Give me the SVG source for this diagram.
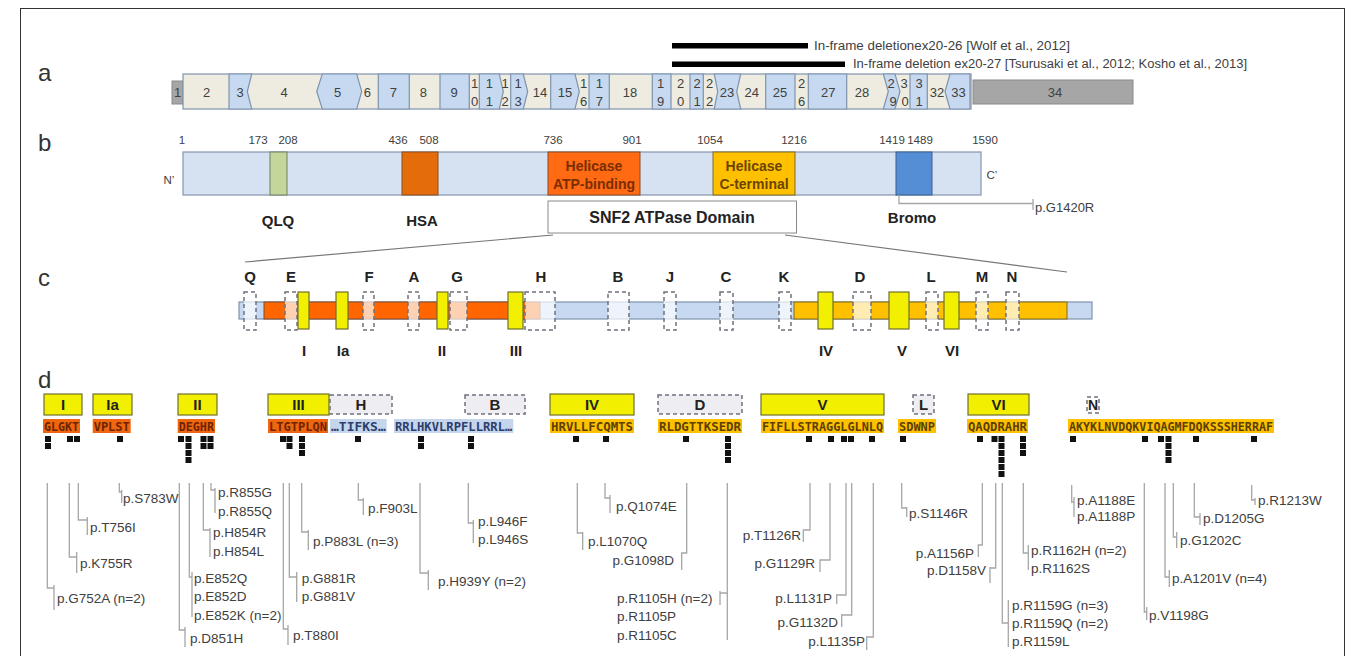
<svg xmlns="http://www.w3.org/2000/svg" width="1353" height="656" viewBox="0 0 1353 656">
<style>
.lbl{font-family:"Liberation Sans",Arial,sans-serif;font-size:24px;fill:#333}
.ex{font-family:"Liberation Sans",Arial,sans-serif;font-size:13px;fill:#404040;text-anchor:middle}
.num{font-family:"Liberation Sans",Arial,sans-serif;font-size:11.5px;fill:#404040;text-anchor:middle}
.t{font-family:"Liberation Sans",Arial,sans-serif;font-size:12.5px;fill:#404040}
.bold{font-family:"Liberation Sans",Arial,sans-serif;font-weight:bold;fill:#222;text-anchor:middle}
.mut{font-family:"Liberation Sans",Arial,sans-serif;font-size:13.5px;fill:#404040}
.end{text-anchor:end}
.seq{font-family:"DejaVu Sans Mono",monospace;font-weight:bold;font-size:12.5px}
.blue{fill:#c6d9f1;stroke:#7f93ad;stroke-width:1.2}
.beige{fill:#eeece1;stroke:#7f93ad;stroke-width:1.2}
.gray{fill:#a6a6a6;stroke:#8a8a8a}
.yel{fill:#f2f000;stroke:#6f6f30;stroke-width:1.2}
.dash{fill:#fff;fill-opacity:0.7;stroke:#70707f;stroke-width:1.5;stroke-dasharray:4,3}
.dashd{fill:#eeeef2;stroke:#70707f;stroke-width:1.5;stroke-dasharray:4,3}
.conn{fill:none;stroke:#a6a6a6;stroke-width:1.3}
.sq{fill:#111}
</style>
<rect x="20.5" y="8.5" width="1324" height="660" fill="none" stroke="#333" stroke-width="1"/>

<!-- Row a -->
<g id="row-a">
<text class="lbl" x="38" y="81">a</text>
<rect x="672" y="43" width="136" height="5.5" fill="#000"/>
<text class="t" x="814" y="50" textLength="256" lengthAdjust="spacingAndGlyphs">In-frame deletionex20-26 [Wolf et al., 2012]</text>
<rect x="672" y="61.5" width="173" height="5.5" fill="#000"/>
<text class="t" x="853" y="68" textLength="394" lengthAdjust="spacingAndGlyphs">In-frame deletion ex20-27 [Tsurusaki et al., 2012; Kosho et al., 2013]</text>
<rect class="gray" x="172" y="81" width="11" height="23"/>
<rect class="gray" x="973" y="80" width="160" height="24"/>
<rect class="beige" x="183" y="74" width="788" height="35"/>
<polygon class="blue" points="229,74 251.7,74 247.3,91.5 251.7,109 229,109"/>
<polygon class="blue" points="322.3,74 356.7,74 361.7,91.5 356.7,109 322.3,109 316.7,91.5"/>
<polygon class="blue" points="378.3,74 409.3,74 409.3,109 378.3,109"/>
<polygon class="blue" points="440,74 469.3,74 469.3,109 440,109"/>
<polygon class="blue" points="479.3,74 499.3,74 503.3,91.5 499.3,109 479.3,109"/>
<polygon class="blue" points="510.7,74 523.3,74 527.7,91.5 523.3,109 510.7,109"/>
<polygon class="blue" points="550.7,74 575,74 579.3,91.5 575,109 550.7,109"/>
<polygon class="blue" points="589,74 609.3,74 609.3,109 589,109"/>
<polygon class="blue" points="652.3,74 671,74 671,109 652.3,109"/>
<polygon class="blue" points="690,74 703.3,74 703.3,109 690,109"/>
<polygon class="blue" points="714.3,74 740.7,74 736.7,91.5 740.7,109 714.3,109 717.7,91.5"/>
<polygon class="blue" points="765.7,74 795,74 795,109 765.7,109"/>
<polygon class="blue" points="808.3,74 846.7,74 846.7,109 808.3,109"/>
<polygon class="blue" points="883.3,74 895,74 900,91.5 895,109 883.3,109 888.3,91.5"/>
<polygon class="blue" points="910,74 927.3,74 927.3,109 910,109"/>
<polygon class="blue" points="950,74 970,74 970,109 950,109 945,91.5"/>
<g>
<text class="ex" x="177.5" y="97">1</text>
<text class="ex" x="206.7" y="97">2</text>
<text class="ex" x="240" y="97">3</text>
<text class="ex" x="284" y="97">4</text>
<text class="ex" x="337.7" y="97">5</text>
<text class="ex" x="367.3" y="97">6</text>
<text class="ex" x="393.3" y="97">7</text>
<text class="ex" x="423.3" y="97">8</text>
<text class="ex" x="454" y="97">9</text>
<text class="ex" x="474.5" y="88">1</text><text class="ex" x="474.5" y="106">0</text>
<text class="ex" x="489.3" y="88">1</text><text class="ex" x="489.3" y="106">1</text>
<text class="ex" x="505" y="88">1</text><text class="ex" x="505" y="106">2</text>
<text class="ex" x="518" y="88">1</text><text class="ex" x="518" y="106">3</text>
<text class="ex" x="540" y="97">14</text>
<text class="ex" x="565" y="97">15</text>
<text class="ex" x="583.5" y="88">1</text><text class="ex" x="583.5" y="106">6</text>
<text class="ex" x="599.3" y="88">1</text><text class="ex" x="599.3" y="106">7</text>
<text class="ex" x="630" y="97">18</text>
<text class="ex" x="660.5" y="88">1</text><text class="ex" x="660.5" y="106">9</text>
<text class="ex" x="680.5" y="88">2</text><text class="ex" x="680.5" y="106">0</text>
<text class="ex" x="697" y="88">2</text><text class="ex" x="697" y="106">1</text>
<text class="ex" x="709.5" y="88">2</text><text class="ex" x="709.5" y="106">2</text>
<text class="ex" x="727" y="97">23</text>
<text class="ex" x="751.7" y="97">24</text>
<text class="ex" x="780" y="97">25</text>
<text class="ex" x="801.7" y="88">2</text><text class="ex" x="801.7" y="106">6</text>
<text class="ex" x="828.3" y="97">27</text>
<text class="ex" x="862" y="97">28</text>
<text class="ex" x="891" y="88">2</text><text class="ex" x="893" y="106">9</text>
<text class="ex" x="904" y="88">3</text><text class="ex" x="905" y="106">0</text>
<text class="ex" x="919" y="88">3</text><text class="ex" x="919" y="106">1</text>
<text class="ex" x="937" y="97">32</text>
<text class="ex" x="958.5" y="97">33</text>
<text class="ex" x="1055" y="97">34</text>
</g>
</g>

<!-- Row b -->
<g id="row-b">
<text class="lbl" x="38" y="151">b</text>
<rect x="183" y="152" width="798" height="43" fill="#d6e2f2" stroke="#8497b0" stroke-width="1.2"/>
<rect x="270" y="152" width="17" height="43" fill="#c4d79b" stroke="#6f7f60" stroke-width="1"/>
<rect x="402" y="152" width="36" height="43" fill="#e46c0a" stroke="#8a4a20" stroke-width="1"/>
<rect x="548" y="152" width="92" height="43" fill="#ff6a13" stroke="#8a4a20" stroke-width="1"/>
<rect x="713" y="152" width="82" height="43" fill="#ffc000" stroke="#7f6a20" stroke-width="1"/>
<rect x="896" y="152" width="36" height="43" fill="#558ed5" stroke="#3a5f90" stroke-width="1"/>
<text class="bold" x="594" y="171" font-size="14" style="fill:#7a2e00">Helicase</text>
<text class="bold" x="594" y="189" font-size="14" style="fill:#7a2e00">ATP-binding</text>
<text class="bold" x="754" y="171" font-size="14" style="fill:#6b4500">Helicase</text>
<text class="bold" x="754" y="189" font-size="14" style="fill:#6b4500">C-terminal</text>
<text class="num" x="182" y="144">1</text>
<text class="num" x="258" y="144">173</text>
<text class="num" x="288" y="144">208</text>
<text class="num" x="398" y="144">436</text>
<text class="num" x="429" y="144">508</text>
<text class="num" x="553" y="144">736</text>
<text class="num" x="632" y="144">901</text>
<text class="num" x="710" y="144">1054</text>
<text class="num" x="794" y="144">1216</text>
<text class="num" x="892" y="144">1419</text>
<text class="num" x="920" y="144">1489</text>
<text class="num" x="985" y="144">1590</text>
<text class="num" x="169" y="184">N’</text>
<text class="num" x="992" y="179">C’</text>
<text class="bold" x="278" y="226" font-size="15">QLQ</text>
<text class="bold" x="422" y="226" font-size="15">HSA</text>
<text class="bold" x="912" y="223" font-size="15">Bromo</text>
<rect x="548" y="201" width="248.5" height="32" fill="#fff" stroke="#8a8a8a" stroke-width="1"/>
<text class="bold" x="672" y="223" font-size="16">SNF2 ATPase Domain</text>
<path class="conn" d="M899 195 V203.5 H1033 M1033 199 V210"/>
<text class="mut" x="1035" y="212" style="font-size:13px">p.G1420R</text>
<path d="M553 235 L245 262 M785 235 L1067 272" fill="none" stroke="#777" stroke-width="1.2"/>
</g>

<!-- Row c -->
<g id="row-c">
<text class="lbl" x="38" y="286">c</text>
<rect class="blue" x="239" y="302" width="853" height="17"/>
<rect x="264" y="302" width="276" height="17" fill="#ff6600" stroke="#7f4a30" stroke-width="1"/>
<rect x="794" y="302" width="273" height="17" fill="#ffc000" stroke="#7f6a20" stroke-width="1"/>
<rect class="dash" x="244" y="292" width="12" height="38"/>
<rect class="dash" x="285" y="292" width="12" height="38"/>
<rect class="dash" x="363" y="292" width="11" height="38"/>
<rect class="dash" x="408" y="292" width="11" height="38"/>
<rect class="dash" x="450" y="292" width="17" height="38"/>
<rect class="dash" x="525" y="292" width="30" height="38"/>
<rect class="dash" x="608" y="292" width="21" height="38"/>
<rect class="dash" x="664" y="292" width="12" height="38"/>
<rect class="dash" x="720" y="292" width="13" height="38"/>
<rect class="dash" x="779" y="292" width="12" height="38"/>
<rect class="dash" x="853" y="292" width="18" height="38"/>
<rect class="dash" x="926" y="292" width="12" height="38"/>
<rect class="dash" x="976" y="292" width="12" height="38"/>
<rect class="dash" x="1006" y="292" width="13" height="38"/>
<rect class="yel" x="298" y="292" width="11" height="37"/>
<rect class="yel" x="336" y="292" width="12" height="37"/>
<rect class="yel" x="437" y="292" width="11" height="37"/>
<rect class="yel" x="508" y="292" width="15" height="37"/>
<rect class="yel" x="818" y="292" width="15" height="37"/>
<rect class="yel" x="889" y="292" width="20" height="37"/>
<rect class="yel" x="944" y="292" width="15" height="37"/>
<g font-size="15">
<text class="bold" x="250" y="282">Q</text>
<text class="bold" x="291" y="282">E</text>
<text class="bold" x="369" y="282">F</text>
<text class="bold" x="414" y="282">A</text>
<text class="bold" x="457" y="282">G</text>
<text class="bold" x="541" y="282">H</text>
<text class="bold" x="618" y="282">B</text>
<text class="bold" x="670" y="282">J</text>
<text class="bold" x="726" y="282">C</text>
<text class="bold" x="784" y="282">K</text>
<text class="bold" x="860" y="282">D</text>
<text class="bold" x="931" y="282">L</text>
<text class="bold" x="982" y="282">M</text>
<text class="bold" x="1012" y="282">N</text>
<text class="bold" x="304" y="356">I</text>
<text class="bold" x="343" y="356">Ia</text>
<text class="bold" x="442" y="356">II</text>
<text class="bold" x="516" y="356">III</text>
<text class="bold" x="826" y="356">IV</text>
<text class="bold" x="902" y="356">V</text>
<text class="bold" x="952" y="356">VI</text>
</g>
</g>

<!-- Row d motifs -->
<g id="row-d">
<text class="lbl" x="38" y="388">d</text>
<g font-size="15">
<rect class="yel" x="44" y="394" width="38" height="21"/><text class="bold" x="63" y="410">I</text>
<rect class="yel" x="93" y="394" width="39" height="21"/><text class="bold" x="112.5" y="410">Ia</text>
<rect class="yel" x="178" y="394" width="39" height="21"/><text class="bold" x="197.5" y="410">II</text>
<rect class="yel" x="268" y="394" width="61" height="21"/><text class="bold" x="298.5" y="410">III</text>
<rect class="dashd" x="330" y="395" width="62" height="19"/><text class="bold" x="361" y="410">H</text>
<rect class="dashd" x="465" y="395" width="60" height="19"/><text class="bold" x="495" y="410">B</text>
<rect class="yel" x="550" y="394" width="84" height="21"/><text class="bold" x="592" y="410">IV</text>
<rect class="dashd" x="658" y="395" width="84" height="19"/><text class="bold" x="700" y="410">D</text>
<rect class="yel" x="761" y="394" width="123" height="21"/><text class="bold" x="822.5" y="410">V</text>
<rect class="dashd" x="913" y="395" width="21" height="19"/><text class="bold" x="923.5" y="410">L</text>
<rect class="yel" x="968" y="394" width="61" height="21"/><text class="bold" x="998.5" y="410">VI</text>
<rect class="dashd" x="1087" y="397" width="12" height="16" style="fill:none"/><text class="bold" x="1093" y="410" font-size="14">N</text>
</g>
<rect x="43" y="419" width="37" height="14" fill="#f0660f"/>
<rect x="92.7" y="419" width="38" height="14" fill="#f0660f"/>
<rect x="177.7" y="419" width="37.3" height="14" fill="#f0660f"/>
<rect x="268" y="419" width="60" height="14" fill="#f0660f"/>
<rect x="330" y="419" width="56.7" height="14" fill="#c5d6ec"/>
<rect x="394" y="419" width="119.3" height="14" fill="#c5d6ec"/>
<rect x="550" y="419" width="84" height="14" fill="#ffc000"/>
<rect x="658" y="419" width="84" height="14" fill="#ffc000"/>
<rect x="761" y="419" width="123" height="14" fill="#ffc000"/>
<rect x="898" y="419" width="38" height="14" fill="#ffc000"/>
<rect x="967" y="419" width="61" height="14" fill="#ffc000"/>
<rect x="1068" y="419" width="206" height="14" fill="#ffc000"/>
<g class="seq">
<text x="44" y="430.5" fill="#6e2400" textLength="35" lengthAdjust="spacingAndGlyphs">GLGKT</text>
<text x="93.7" y="430.5" fill="#6e2400" textLength="36" lengthAdjust="spacingAndGlyphs">VPLST</text>
<text x="178.7" y="430.5" fill="#6e2400" textLength="35.3" lengthAdjust="spacingAndGlyphs">DEGHR</text>
<text x="269" y="430.5" fill="#6e2400" textLength="58" lengthAdjust="spacingAndGlyphs">LTGTPLQN</text>
<text x="331" y="430.5" fill="#2c3e6e" textLength="54.7" lengthAdjust="spacingAndGlyphs">…TIFKS…</text>
<text x="395" y="430.5" fill="#2c3e6e" textLength="117.3" lengthAdjust="spacingAndGlyphs">RRLHKVLRPFLLRRL…</text>
<text x="551" y="430.5" fill="#5c4000" textLength="82" lengthAdjust="spacingAndGlyphs">HRVLLFCQMTS</text>
<text x="659" y="430.5" fill="#5c4000" textLength="82" lengthAdjust="spacingAndGlyphs">RLDGTTKSEDR</text>
<text x="762" y="430.5" fill="#5c4000" textLength="121" lengthAdjust="spacingAndGlyphs">FIFLLSTRAGGLGLNLQ</text>
<text x="899" y="430.5" fill="#5c4000" textLength="36" lengthAdjust="spacingAndGlyphs">SDWNP</text>
<text x="968" y="430.5" fill="#5c4000" textLength="59" lengthAdjust="spacingAndGlyphs">QAQDRAHR</text>
<text x="1069" y="430.5" fill="#5c4000" textLength="204" lengthAdjust="spacingAndGlyphs">AKYKLNVDQKVIQAGMFDQKSSSHERRAF</text>
</g>
</g>

<!-- mutation squares -->
<g id="squares" class="sq">
<rect x="45" y="436" width="6" height="6"/><rect x="45" y="443" width="6" height="6"/>
<rect x="67" y="436" width="6" height="6"/><rect x="74" y="436" width="6" height="6"/>
<rect x="117" y="436" width="6" height="6"/>
<rect x="178" y="436" width="6" height="6"/>
<rect x="185.5" y="436" width="6" height="6"/><rect x="185.5" y="443" width="6" height="6"/><rect x="185.5" y="450" width="6" height="6"/><rect x="185.5" y="457" width="6" height="6"/>
<rect x="200.5" y="436" width="6" height="6"/><rect x="200.5" y="443" width="6" height="6"/>
<rect x="207.5" y="436" width="6" height="6"/><rect x="207.5" y="443" width="6" height="6"/>
<rect x="280" y="436" width="6" height="6"/>
<rect x="286.5" y="436" width="6" height="6"/><rect x="286.5" y="443" width="6" height="6"/>
<rect x="299" y="436" width="6" height="6"/><rect x="299" y="443" width="6" height="6"/><rect x="299" y="450" width="6" height="6"/>
<rect x="355" y="436" width="6" height="6"/>
<rect x="418" y="436" width="6" height="6"/><rect x="418" y="443" width="6" height="6"/>
<rect x="468" y="436" width="6" height="6"/><rect x="468" y="443" width="6" height="6"/>
<rect x="573" y="436" width="6" height="6"/>
<rect x="603" y="436" width="6" height="6"/>
<rect x="683" y="436" width="6" height="6"/>
<rect x="725" y="436" width="6" height="6"/><rect x="725" y="443" width="6" height="6"/><rect x="725" y="450" width="6" height="6"/><rect x="725" y="457" width="6" height="6"/>
<rect x="806" y="436" width="6" height="6"/>
<rect x="828" y="436" width="6" height="6"/>
<rect x="841" y="436" width="6" height="6"/><rect x="848" y="436" width="6" height="6"/>
<rect x="869" y="436" width="6" height="6"/>
<rect x="900" y="436" width="6" height="6"/>
<rect x="977" y="436" width="6" height="6"/>
<rect x="991.5" y="436" width="6" height="6"/>
<rect x="998.5" y="436" width="6" height="6"/><rect x="998.5" y="443" width="6" height="6"/><rect x="998.5" y="450" width="6" height="6"/><rect x="998.5" y="457" width="6" height="6"/><rect x="998.5" y="464" width="6" height="6"/><rect x="998.5" y="471" width="6" height="6"/>
<rect x="1020" y="436" width="6" height="6"/><rect x="1020" y="443" width="6" height="6"/><rect x="1020" y="450" width="6" height="6"/>
<rect x="1070" y="436" width="6" height="6"/>
<rect x="1142" y="436" width="6" height="6"/>
<rect x="1158" y="436" width="6" height="6"/>
<rect x="1165.5" y="436" width="6" height="6"/><rect x="1165.5" y="443" width="6" height="6"/><rect x="1165.5" y="450" width="6" height="6"/><rect x="1165.5" y="457" width="6" height="6"/>
<rect x="1193" y="436" width="6" height="6"/>
<rect x="1251" y="436" width="6" height="6"/>
</g>

<!-- connectors -->
<g id="connectors" class="conn">
<path d="M47.3 483 V588 H54 M54 585 V610"/>
<path d="M69.3 483 V557 H76.7 M76.7 552 V573"/>
<path d="M78.3 483 V520 H87.3 M87.3 517 V535"/>
<path d="M119.3 483 V492 H121.7 M121.7 490 V503"/>
<path d="M179.3 483 V630 H185 M185 627 V647"/>
<path d="M189.3 483 V577 H192 M192 572 V617"/>
<path d="M203.3 483 V530 H210 M210 528 V557"/>
<path d="M211 483 V490 H215 M215 488 V513"/>
<path d="M283.3 483 V629 H288 M288 625 V645"/>
<path d="M289.3 483 V577 H296.7 M296.7 572 V602"/>
<path d="M301.7 483 V532 H308.3 M308.3 530 V550"/>
<path d="M358.3 483 V500 H363.3 M363.3 498 V515"/>
<path d="M420 483 V573 H428.3 M428.3 570 V590"/>
<path d="M468.3 483 V523 H473.3 M473.3 520 V543"/>
<path d="M577.3 483 V533 H582.7 M582.7 532 V550"/>
<path d="M605 483 V498 H610 M610 495 V513"/>
<path d="M686.7 483 V553 H681.7 V570"/>
<path d="M727.3 483 V640 M727.3 593 H720 M720 591 V605"/>
<path d="M810 483 V530 H803.3 V542"/>
<path d="M830 483 V560 H820 V572"/>
<path d="M846 483 V595 H836.7 V604"/>
<path d="M851.7 483 V615 H841.7 V627"/>
<path d="M873.3 483 V637 H866.7 V650"/>
<path d="M901.7 483 V508 H906.7 M906.7 507 V517"/>
<path d="M982.3 483 V545 H978.3 V557"/>
<path d="M995.7 483 V568 H990 M990 567 V583"/>
<path d="M1002.3 483 V623 H1008.3 M1008.3 600 V647"/>
<path d="M1023.3 483 V553 H1028.3 M1028.3 545 V570"/>
<path d="M1071.7 485 V502 H1074 M1074 497 V517"/>
<path d="M1144.3 483 V612 H1146.7 M1146.7 607 V620"/>
<path d="M1165 483 V577 H1169.3 M1169.3 570 V587"/>
<path d="M1173.3 483 V537 H1176.7 M1176.7 532 V548"/>
<path d="M1194.3 483 V517 H1200 M1200 513 V525"/>
<path d="M1251.7 485 V500 H1255 M1255 498 V505"/>
</g>

<!-- mutation labels -->
<g id="labels" class="mut">
<text x="57" y="603">p.G752A (n=2)</text>
<text x="80" y="568">p.K755R</text>
<text x="90" y="532">p.T756I</text>
<text x="123" y="503">p.S783W</text>
<text x="190" y="643">p.D851H</text>
<text x="194" y="583">p.E852Q</text>
<text x="194" y="601">p.E852D</text>
<text x="194" y="620">p.E852K (n=2)</text>
<text x="213" y="537">p.H854R</text>
<text x="213" y="556">p.H854L</text>
<text x="218" y="497">p.R855G</text>
<text x="218" y="516">p.R855Q</text>
<text x="293" y="640">p.T880I</text>
<text x="301.7" y="583">p.G881R</text>
<text x="301.7" y="601">p.G881V</text>
<text x="313" y="546">p.P883L (n=3)</text>
<text x="368" y="513">p.F903L</text>
<text x="438" y="586">p.H939Y (n=2)</text>
<text x="478" y="526">p.L946F</text>
<text x="478" y="544">p.L946S</text>
<text x="588" y="546">p.L1070Q</text>
<text x="616" y="511">p.Q1074E</text>
<text class="end" x="674" y="565">p.G1098D</text>
<text x="617" y="603">p.R1105H (n=2)</text>
<text x="617" y="621">p.R1105P</text>
<text x="617" y="640">p.R1105C</text>
<text class="end" x="801" y="540">p.T1126R</text>
<text class="end" x="815" y="568">p.G1129R</text>
<text class="end" x="832" y="603">p.L1131P</text>
<text class="end" x="838" y="627">p.G1132D</text>
<text class="end" x="865" y="646">p.L1135P</text>
<text x="909" y="518">p.S1146R</text>
<text class="end" x="974" y="558">p.A1156P</text>
<text class="end" x="986" y="575">p.D1158V</text>
<text x="1012" y="610">p.R1159G (n=3)</text>
<text x="1012" y="628">p.R1159Q (n=2)</text>
<text x="1012" y="646">p.R1159L</text>
<text x="1031" y="555">p.R1162H (n=2)</text>
<text x="1031" y="573">p.R1162S</text>
<text x="1077" y="505">p.A1188E</text>
<text x="1077" y="521">p.A1188P</text>
<text x="1149" y="620">p.V1198G</text>
<text x="1172" y="583">p.A1201V (n=4)</text>
<text x="1180" y="545">p.G1202C</text>
<text x="1203" y="523">p.D1205G</text>
<text x="1258" y="505">p.R1213W</text>
</g>
</svg>
